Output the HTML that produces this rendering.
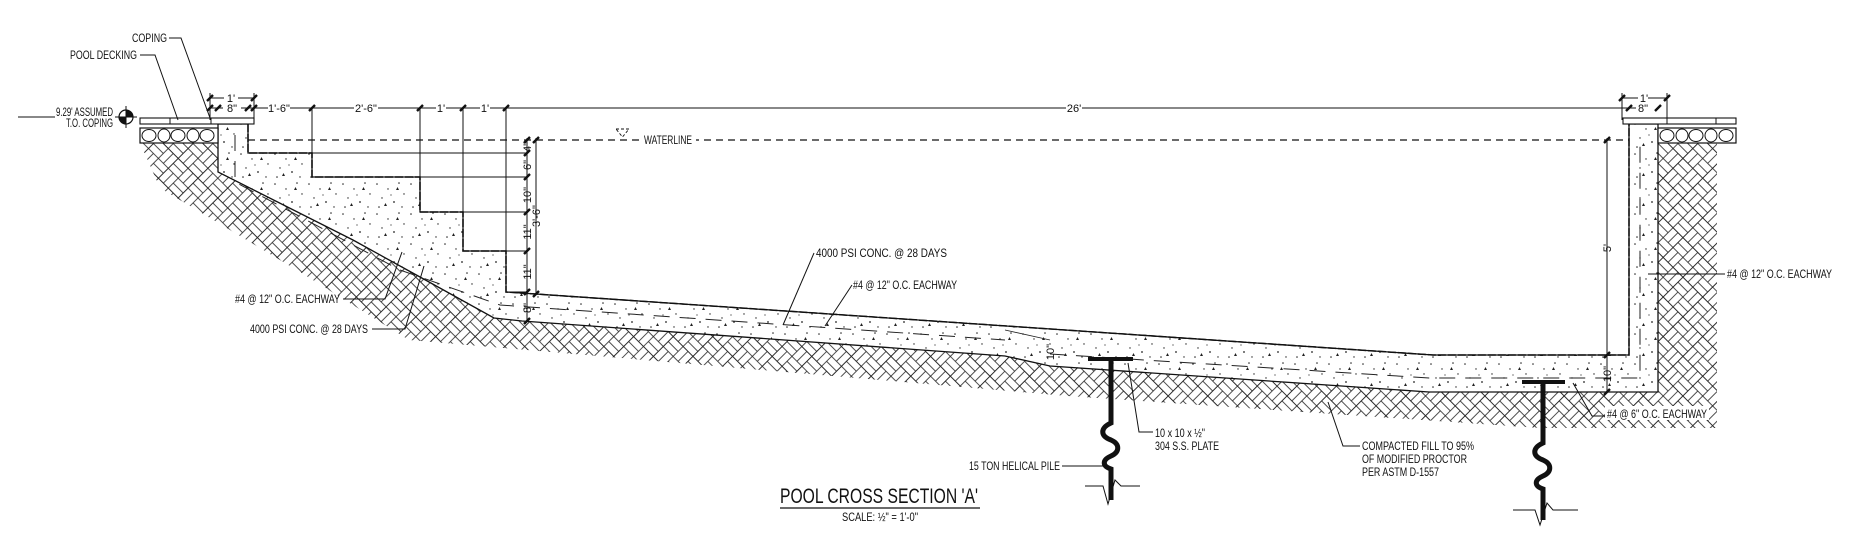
<!DOCTYPE html>
<html><head><meta charset="utf-8"><style>
html,body{margin:0;padding:0;background:#fff;}
svg{display:block;}
text{font-family:"Liberation Sans Narrow","Liberation Sans",sans-serif;fill:#111;}
</style></head><body>
<svg width="1851" height="544" viewBox="0 0 1851 544" xmlns="http://www.w3.org/2000/svg">
<defs>
<pattern id="earth" width="28" height="28" patternUnits="userSpaceOnUse" patternTransform="rotate(45)">
<g stroke="#222" stroke-width="0.8" fill="none">
<rect x="0" y="0" width="14" height="14"/><line x1="0" y1="7" x2="14" y2="7"/>
<rect x="14" y="0" width="14" height="14"/><line x1="21" y1="0" x2="21" y2="14"/>
<rect x="0" y="14" width="14" height="14"/><line x1="7" y1="14" x2="7" y2="28"/>
<rect x="14" y="14" width="14" height="14"/><line x1="14" y1="21" x2="28" y2="21"/>
</g></pattern>
<pattern id="conc" width="34" height="30" patternUnits="userSpaceOnUse">
<g fill="#222">
<circle cx="3" cy="4" r="0.8"/><circle cx="14" cy="9" r="0.7"/><circle cx="25" cy="3" r="0.8"/>
<circle cx="8" cy="18" r="0.7"/><circle cx="20" cy="22" r="0.9"/><circle cx="30" cy="14" r="0.7"/>
<circle cx="5" cy="27" r="0.8"/><circle cx="28" cy="27" r="0.7"/><circle cx="17" cy="15" r="0.6"/>
<polygon points="22,10 25,10 23.5,7"/><polygon points="10,26 13,26 11.5,23"/>
</g></pattern>
</defs>

<path d="M140,143 L218,143 L218,172 L353,240 L420,277 L494,318 L522,321 L1005,356 L1050,366 L1429,392 L1658,392 L1658,143 L1717,143 L1717,428 L1540,428 L1068,396 L409,340 L300,272 L160,188 Z" fill="url(#earth)"/>

<path d="M218,124 L248,124 L248,153 L312,153 L312,177 L420,177 L420,212 L463,212 L463,251 L506,251 L506,292 L1433,355 L1629,355 L1629,124 L1658,124 L1658,392 L1429,392 L1050,366 L1005,356 L522,321 L494,318 L420,277 L353,240 L218,172 Z" fill="#fff" stroke="none"/>
<path d="M218,124 L248,124 L248,153 L312,153 L312,177 L420,177 L420,212 L463,212 L463,251 L506,251 L506,292 L1433,355 L1629,355 L1629,124 L1658,124 L1658,392 L1429,392 L1050,366 L1005,356 L522,321 L494,318 L420,277 L353,240 L218,172 Z" fill="url(#conc)" stroke="#111" stroke-width="1.3"/>
<path d="M248,124 L248,153 L312,153 L312,177 L420,177 L420,212 L463,212 L463,251 L506,251 L506,292 L1433,355 L1629,355 L1629,124" fill="none" stroke="#111" stroke-width="1.5" stroke-dasharray="8,2"/>
<g stroke="#222" stroke-width="1" stroke-dasharray="16,10" fill="none">
<path d="M235,135 L235,182 L400,270 L500,305 L1005,340"/>
<path d="M1050,354 L1429,378 L1640,378 L1640,140"/>
</g>
<path d="M1005,330 L1050,340" stroke="#222" stroke-width="0.8" fill="none"/>

<rect x="140" y="128" width="78" height="15" fill="#fff" stroke="#111" stroke-width="1.2"/>
<g fill="none" stroke="#111" stroke-width="1">
<ellipse cx="149" cy="135.5" rx="7" ry="6"/><ellipse cx="164" cy="135.5" rx="6" ry="6.5"/><ellipse cx="178" cy="135.5" rx="7" ry="6"/><ellipse cx="193" cy="135.5" rx="6" ry="6.5"/><ellipse cx="207" cy="135.5" rx="7" ry="6"/>
</g>
<rect x="1658" y="128" width="78" height="15" fill="#fff" stroke="#111" stroke-width="1.2"/>
<g fill="none" stroke="#111" stroke-width="1">
<ellipse cx="1667" cy="135.5" rx="7" ry="6"/><ellipse cx="1682" cy="135.5" rx="6" ry="6.5"/><ellipse cx="1696" cy="135.5" rx="7" ry="6"/><ellipse cx="1711" cy="135.5" rx="6" ry="6.5"/><ellipse cx="1726" cy="135.5" rx="7" ry="6"/>
</g>
<g fill="#fff" stroke="#111" stroke-width="1.1">
<rect x="140" y="118" width="114" height="6"/>
<rect x="1623" y="118" width="113" height="6"/>
</g>
<path d="M170,118 V124 M211,118 V124 M1667,118 V124 M1716,118 V124" stroke="#111"/>

<path d="M248,140 H1629" stroke="#111" stroke-width="1.2" stroke-dasharray="7,5"/>
<rect x="640" y="133" width="56" height="14" fill="#fff"/>
<text x="644" y="144" font-size="12" textLength="48" lengthAdjust="spacingAndGlyphs">WATERLINE</text>
<path d="M616,129 L629,129 L622.5,137 Z" fill="#fff" stroke="#111" stroke-width="0.9" stroke-dasharray="3,2"/>

<g stroke="#111" stroke-width="1" fill="none">
<path d="M210,108 H1646"/>
<path d="M210,98 H254 M1622,98 H1667"/>
<path d="M210,93 V120 M254,93 V120 M1622,93 V120 M1667,93 V120"/>
<path d="M312,108 V177 M420,108 V212 M463,108 V251 M506,108 V292"/>
<path d="M248,153 H527 M312,177 H527 M420,212 H527 M463,251 H527 M506,292 H527"/>
<path d="M527,138 V322 M536,138 V294"/>
<path d="M1607,138 V392"/>
</g>
<g stroke="#111" stroke-width="2.4">
<path d="M207,111 L213,105 M207,101 L213,95 M251,101 L257,95 M251,111 L257,105 M215,111 L221,105 M245,111 L251,105 M309,111 L315,105 M417,111 L423,105 M460,111 L466,105 M503,111 L509,105 M1626,111 L1632,105 M1655,111 L1661,105 M1619,101 L1625,95 M1664,101 L1670,95"/>
<path d="M524,143 L530,137 M524,156 L530,150 M524,180 L530,174 M524,215 L530,209 M524,254 L530,248 M524,295 L530,289 M524,324 L530,318 M533,143 L539,137 M533,297 L539,291 M1604,143 L1610,137 M1604,358 L1610,352 M1604,395 L1610,389"/>
</g>
<g font-size="11" text-anchor="middle">
<rect x="224" y="92" width="14" height="10" fill="#fff"/><text x="231" y="102">1'</text>
<rect x="223" y="102" width="18" height="10" fill="#fff"/><text x="232" y="112">8"</text>
<rect x="268" y="102" width="22" height="10" fill="#fff"/><text x="279" y="112">1'-6"</text>
<rect x="354" y="102" width="24" height="10" fill="#fff"/><text x="366" y="112">2'-6"</text>
<rect x="436" y="102" width="10" height="10" fill="#fff"/><text x="441" y="112">1'</text>
<rect x="480" y="102" width="10" height="10" fill="#fff"/><text x="485" y="112">1'</text>
<rect x="1066" y="102" width="16" height="10" fill="#fff"/><text x="1074" y="112">26'</text>
<rect x="1638" y="92" width="10" height="10" fill="#fff"/><text x="1644" y="102">1'</text>
<rect x="1636" y="102" width="14" height="10" fill="#fff"/><text x="1643" y="112">8"</text>
</g>
<g font-size="11" text-anchor="middle">
<text transform="translate(531,147) rotate(-90)">4"</text>
<text transform="translate(531,165) rotate(-90)">6"</text>
<text transform="translate(531,195) rotate(-90)">10"</text>
<text transform="translate(531,232) rotate(-90)">11"</text>
<text transform="translate(531,272) rotate(-90)">11"</text>
<text transform="translate(540,216) rotate(-90)">3'-6"</text>
<text transform="translate(531,308) rotate(-90)">8"</text>
<text transform="translate(1611,248) rotate(-90)">5'</text>
<text transform="translate(1611,374) rotate(-90)">10"</text>
<text transform="translate(1054,352) rotate(-90)">10"</text>
</g>

<path d="M18,117 H126" stroke="#111" stroke-width="1"/>
<circle cx="126" cy="117" r="7" fill="#fff" stroke="#111" stroke-width="1.2"/>
<path d="M126,110 A7,7 0 0 1 133,117 L126,117 Z M126,124 A7,7 0 0 1 119,117 L126,117 Z" fill="#111"/>
<path d="M126,106 V128 M115,117 H137" stroke="#111" stroke-width="1"/>
<rect x="55" y="105" width="60" height="24" fill="#fff"/>
<text x="56" y="116" font-size="12" textLength="57" lengthAdjust="spacingAndGlyphs">9.29' ASSUMED</text>
<text x="66" y="127" font-size="12" textLength="47" lengthAdjust="spacingAndGlyphs">T.O. COPING</text>

<g stroke="#111" stroke-width="1" fill="none">
<path d="M169,38 H181 L210,118"/>
<path d="M140,55 H155 L178,120"/>
<path d="M343,299 H385 L402,252"/>
<path d="M372,329 H405 L424,266"/>
<path d="M814,253 L783,325"/>
<path d="M852,285 L825,326"/>
<path d="M1648,274 H1725"/>
<path d="M1605,416 H1592 L1573,383"/>
<path d="M1360,446 H1343 L1328,402"/>
<path d="M1153,432 H1139 L1128,363"/>
<path d="M1062,466 H1108"/>
</g>
<rect x="1605" y="406" width="104" height="14" fill="#fff"/>
<g font-size="12">
<text x="132" y="42" textLength="35" lengthAdjust="spacingAndGlyphs">COPING</text>
<text x="70" y="59" textLength="67" lengthAdjust="spacingAndGlyphs">POOL DECKING</text>
<text x="235" y="303" textLength="105" lengthAdjust="spacingAndGlyphs">#4 @ 12" O.C. EACHWAY</text>
<text x="250" y="333" textLength="118" lengthAdjust="spacingAndGlyphs">4000 PSI CONC. @ 28 DAYS</text>
<text x="816" y="257" textLength="131" lengthAdjust="spacingAndGlyphs">4000 PSI CONC. @ 28 DAYS</text>
<text x="853" y="289" textLength="104" lengthAdjust="spacingAndGlyphs">#4 @ 12" O.C. EACHWAY</text>
<text x="1727" y="278" textLength="105" lengthAdjust="spacingAndGlyphs">#4 @ 12" O.C. EACHWAY</text>
<text x="1607" y="418" textLength="100" lengthAdjust="spacingAndGlyphs">#4 @ 6" O.C. EACHWAY</text>
<text x="1362" y="450" textLength="112" lengthAdjust="spacingAndGlyphs">COMPACTED FILL TO 95%</text>
<text x="1362" y="463" textLength="105" lengthAdjust="spacingAndGlyphs">OF MODIFIED PROCTOR</text>
<text x="1362" y="476" textLength="77" lengthAdjust="spacingAndGlyphs">PER ASTM D-1557</text>
<text x="1155" y="437" textLength="50" lengthAdjust="spacingAndGlyphs">10 x 10 x ½"</text>
<text x="1155" y="450" textLength="64" lengthAdjust="spacingAndGlyphs">304 S.S. PLATE</text>
<text x="969" y="470" textLength="91" lengthAdjust="spacingAndGlyphs">15 TON HELICAL PILE</text>
</g>

<g>
<rect x="1088" y="357" width="45" height="4" fill="#111"/>
<path d="M1111,361 V423 C1100,428 1100,436 1111,440 C1120,444 1120,452 1111,456 C1102,460 1102,466 1111,469 V500" fill="none" stroke="#111" stroke-width="5"/>
<path d="M1085,486 H1103 L1108,504 L1115,480 L1121,486 H1140" fill="none" stroke="#111" stroke-width="1"/>
<rect x="1522" y="380" width="43" height="4" fill="#111"/>
<path d="M1543,384 V443 C1532,448 1532,456 1543,460 C1552,464 1552,472 1543,476 C1534,480 1534,486 1543,489 V520" fill="none" stroke="#111" stroke-width="5"/>
<path d="M1513,510 H1535 L1540,525 L1547,503 L1553,510 H1578" fill="none" stroke="#111" stroke-width="1"/>
</g>

<text x="780" y="503" font-size="21" textLength="198" lengthAdjust="spacingAndGlyphs">POOL CROSS SECTION 'A'</text>
<path d="M780,508 H980" stroke="#111" stroke-width="1.2"/>
<text x="842" y="521" font-size="12" textLength="76" lengthAdjust="spacingAndGlyphs">SCALE: ½" = 1'-0"</text>
</svg>
</body></html>
